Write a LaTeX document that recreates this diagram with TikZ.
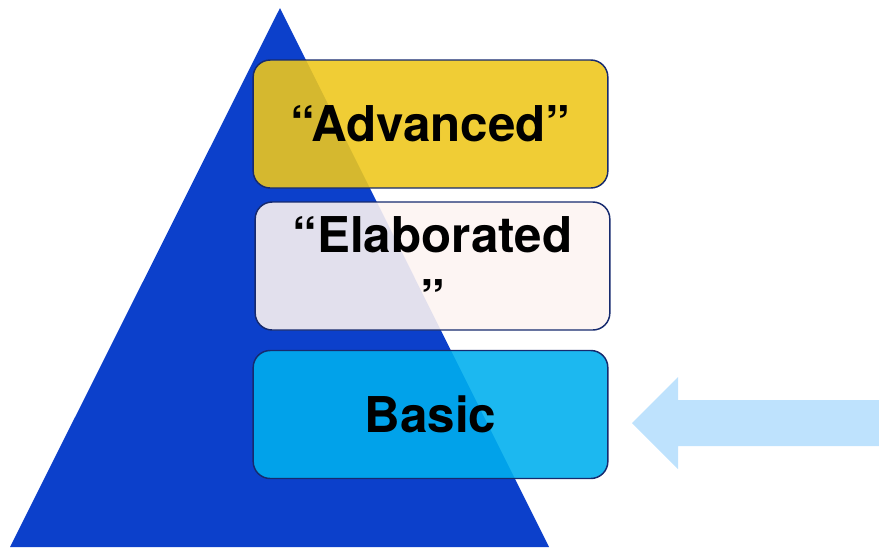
\documentclass[tikz,border=0pt]{standalone}
\usepackage{fontspec}
\setmainfont{TeX Gyre Heros}
\usetikzlibrary{positioning}

\definecolor{pyrblue}{RGB}{12,64,203}
\definecolor{advyellow}{RGB}{238,199,28}
\definecolor{elabwhite}{RGB}{253,244,242}
\definecolor{basiccyan}{RGB}{0,175,238}
\definecolor{boxborder}{RGB}{22,42,110}
\definecolor{arrowblue}{RGB}{190,226,253}

\tikzset{every picture/.style={line width=0.75pt}}
\tikzset{
  levelbox/.style={draw=boxborder, line width=1.1pt, rounded corners=12.75pt, fill opacity=0.89, text opacity=1,
    minimum width=266pt, minimum height=96pt, align=center, inner sep=0pt,
    font=\fontsize{37}{47}\selectfont\bfseries}
}

\begin{document}
\begin{tikzpicture}[x=0.75pt,y=0.75pt,yscale=-1,xscale=1]
	\useasboundingbox (0,0) rectangle (879,547);

	%Shape: Triangle
	\fill [pyrblue] (280,8) -- (549,547) -- (10,547) -- cycle ;

	% Level Nodes
	\node [levelbox, fill=advyellow] (adv) at (430.5,124) {“Advanced”};
	\node [levelbox, fill=elabwhite] (elab) at (432.5,266) {“Elaborated\\”};
	\node [levelbox, fill=basiccyan] (basic) at (430.5,414.5) {Basic};

	%Shape: Left Arrow
	\fill [arrowblue] (632,423) -- (678,377) -- (678,400) -- (879,400) -- (879,446) -- (678,446) -- (678,469) -- cycle ;

\end{tikzpicture}
\end{document}
